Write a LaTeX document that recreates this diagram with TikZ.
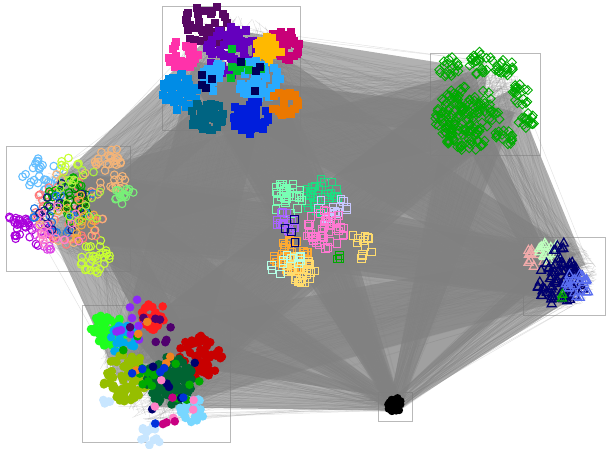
\documentclass[tikz,border=0pt]{standalone}
\usepackage{xcolor}

% Palette
\definecolor{edgegray}{RGB}{128,128,128}
\definecolor{boxgray}{RGB}{185,185,185}
\definecolor{tdark}{RGB}{88,8,100}
\definecolor{tpurple}{RGB}{100,0,190}
\definecolor{tmagenta}{RGB}{200,0,120}
\definecolor{tyellow}{RGB}{255,185,0}
\definecolor{tpink}{RGB}{255,50,170}
\definecolor{tsky}{RGB}{40,170,255}
\definecolor{tblue}{RGB}{0,140,230}
\definecolor{tteal}{RGB}{0,100,130}
\definecolor{troyal}{RGB}{0,30,220}
\definecolor{torange}{RGB}{235,120,0}
\definecolor{tgreen}{RGB}{0,190,40}
\definecolor{tnavy}{RGB}{0,0,90}
\definecolor{dgreen}{RGB}{0,170,0}
\definecolor{lorange}{RGB}{244,180,120}
\definecolor{llgreen}{RGB}{120,240,120}
\definecolor{lpurple}{RGB}{170,0,220}
\definecolor{lmagenta}{RGB}{220,70,230}
\definecolor{lblue}{RGB}{100,190,255}
\definecolor{lyellow}{RGB}{200,255,50}
\definecolor{lsalmon}{RGB}{255,120,120}
\definecolor{ldkgreen}{RGB}{0,110,0}
\definecolor{lmblue}{RGB}{30,120,230}
\definecolor{lnavy}{RGB}{20,20,130}
\definecolor{lorange2}{RGB}{240,170,60}
\definecolor{lpink}{RGB}{255,130,200}
\definecolor{llime}{RGB}{170,240,60}
\definecolor{cgreen}{RGB}{30,220,130}
\definecolor{clgreen}{RGB}{120,255,180}
\definecolor{clav}{RGB}{200,200,255}
\definecolor{cviolet}{RGB}{170,100,255}
\definecolor{cpink}{RGB}{255,120,210}
\definecolor{corange}{RGB}{255,170,50}
\definecolor{cyellow}{RGB}{255,220,110}
\definecolor{ccyan}{RGB}{180,255,230}
\definecolor{cnavy}{RGB}{0,0,120}
\definecolor{rpink}{RGB}{240,170,170}
\definecolor{rgreen}{RGB}{190,255,190}
\definecolor{rnavy}{RGB}{0,0,110}
\definecolor{rblue}{RGB}{90,110,240}
\definecolor{bred}{RGB}{255,30,30}
\definecolor{bgreen}{RGB}{30,255,30}
\definecolor{bcyan}{RGB}{0,170,240}
\definecolor{bpurple}{RGB}{140,40,250}
\definecolor{bdpurple}{RGB}{80,0,110}
\definecolor{bdred}{RGB}{200,0,0}
\definecolor{bolive}{RGB}{150,190,0}
\definecolor{bdgreen}{RGB}{0,100,50}
\definecolor{blcyan}{RGB}{120,215,255}
\definecolor{blblue}{RGB}{200,230,255}
\definecolor{borange}{RGB}{240,130,30}
\definecolor{bmagenta}{RGB}{200,0,130}
\definecolor{broyal}{RGB}{0,50,220}

\tikzset{
    edge/.style={draw=edgegray, line width=0.5pt, opacity=0.22},
    band/.style={fill=edgegray, opacity=0.38},
    boxline/.style={draw=boxgray, line width=1pt},
    hollow/.style={line width=1.1pt}
}

\begin{document}
\begin{tikzpicture}[x=1pt,y=-1pt]
    \useasboundingbox (0,0) rectangle (611,448);
    \def\clusters{232/70/55, 483/103/46, 78/208/48, 315/232/45, 563/275/34, 158/366/58, 395/405/8}
    \pgfmathsetseed{4242}

    % Group boxes
    \foreach \xa/\ya/\xb/\yb in {162/6/300/130, 430/53/540/155, 6/146/130/271, 523/237/605/315, 82/305/230/442, 378/392/412/421} {
        \draw[boxline] (\xa,\ya) rectangle (\xb,\yb);
    }

    % Dense core of the edges
    \fill[edgegray, opacity=0.75] (232,78) -- (478,108) -- (555,272) -- (395,398) -- (160,362) -- (80,208) -- cycle;

    % Edge bundles between groups
    \foreach \ax/\ay/\ar in \clusters {
        \foreach \bx/\by/\br in \clusters {
            \pgfmathsetmacro\dlen{veclen(\bx-\ax,\by-\ay)}
            \ifdim\dlen pt>1pt
                \pgfmathsetmacro\nx{-(\by-\ay)/\dlen}
                \pgfmathsetmacro\ny{(\bx-\ax)/\dlen}
                \fill[band] ({\ax+0.72*\ar*\nx},{\ay+0.72*\ar*\ny}) -- ({\bx+0.72*\br*\nx},{\by+0.72*\br*\ny})
                    -- ({\bx-0.72*\br*\nx},{\by-0.72*\br*\ny}) -- ({\ax-0.72*\ar*\nx},{\ay-0.72*\ar*\ny}) -- cycle;
            \fi
        }
    }

    % Edges between groups
    \foreach \ax/\ay/\ar in \clusters {
        \foreach \bx/\by/\br in \clusters {
            \foreach \k in {1,...,50} {
                \pgfmathsetmacro\pa{360*rnd}
                \pgfmathsetmacro\ra{\ar*sqrt(rnd)}
                \pgfmathsetmacro\pb{360*rnd}
                \pgfmathsetmacro\rb{\br*sqrt(rnd)}
                \draw[edge] ({\ax+\ra*cos(\pa)},{\ay+\ra*sin(\pa)}) -- ({\bx+\rb*cos(\pb)},{\by+\rb*sin(\pb)});
            }
        }
    }

    % Top group: filled squares
    \foreach \cx/\cy/\r/\n/\col in {205/25/22/45/tdark, 232/50/25/70/tpurple, 183/55/15/30/tpink,
        283/45/17/35/tmagenta, 268/50/13/25/tyellow, 258/80/22/50/tsky, 215/78/14/20/tsky,
        180/92/18/45/tblue, 207/116/17/45/tteal, 250/117/18/45/troyal, 285/104/14/28/torange,
        232/72/32/8/tgreen, 232/78/32/8/tnavy} {
        \foreach \k in {1,...,\n} {
            \pgfmathsetmacro\pa{360*rnd}
            \pgfmathsetmacro\rr{\r*sqrt(rnd)}
            \fill[\col] ({\cx+\rr*cos(\pa)-4},{\cy+\rr*sin(\pa)-4}) rectangle ++(8,8);
        }
    }

    % Right group: hollow diamonds
    \foreach \cx/\cy/\r/\n/\col in {468/118/33/160/dgreen, 450/68/11/18/dgreen, 480/62/13/22/dgreen,
        505/70/11/18/dgreen, 520/95/11/18/dgreen, 525/120/10/15/dgreen, 505/138/11/15/dgreen} {
        \foreach \k in {1,...,\n} {
            \pgfmathsetmacro\pa{360*rnd}
            \pgfmathsetmacro\rr{\r*sqrt(rnd)}
            \draw[\col, line width=0.9pt] ({\cx+\rr*cos(\pa)},{\cy+\rr*sin(\pa)-4.5}) -- ++(4.5,4.5) -- ++(-4.5,4.5) -- ++(-4.5,-4.5) -- cycle;
        }
    }

    % Left group: hollow circles
    \foreach \cx/\cy/\r/\n/\col in {108/160/14/22/lorange, 118/182/9/12/lorange, 124/198/11/16/llgreen,
        18/226/13/25/lpurple, 40/232/16/12/lpurple, 45/238/14/14/lmagenta, 42/176/20/26/lblue,
        95/256/17/30/lyellow, 72/170/14/12/lyellow, 70/212/36/45/lsalmon, 72/205/40/25/lorange,
        68/200/24/30/dgreen, 72/205/18/14/ldkgreen, 65/205/34/18/lmblue, 65/210/28/12/lnavy,
        75/215/28/15/lorange2, 60/228/24/14/lpink, 85/195/28/15/llime} {
        \foreach \k in {1,...,\n} {
            \pgfmathsetmacro\pa{360*rnd}
            \pgfmathsetmacro\rr{\r*sqrt(rnd)}
            \draw[\col, hollow] ({\cx+\rr*cos(\pa)},{\cy+\rr*sin(\pa)}) circle (3.8pt);
        }
    }

    % Center group: hollow squares
    \foreach \cx/\cy/\r/\n/\col in {322/197/18/35/cgreen, 287/198/16/30/clgreen, 332/206/15/15/clav,
        287/221/11/15/cviolet, 325/230/20/45/cpink, 290/256/18/45/corange, 300/269/15/35/cyellow,
        362/245/14/12/cyellow, 285/262/17/12/ccyan, 300/225/22/4/cnavy, 340/256/4/3/dgreen} {
        \foreach \k in {1,...,\n} {
            \pgfmathsetmacro\pa{360*rnd}
            \pgfmathsetmacro\rr{\r*sqrt(rnd)}
            \draw[\col, line width=1pt] ({\cx+\rr*cos(\pa)-3.8},{\cy+\rr*sin(\pa)-3.8}) rectangle ++(7.6,7.6);
        }
    }

    % Right lower group: hollow triangles
    \foreach \cx/\cy/\r/\n/\col in {535/256/10/10/rpink, 548/250/11/16/rgreen, 560/282/24/80/rnavy,
        558/245/7/7/rnavy, 578/284/13/22/rblue, 562/296/3/2/dgreen} {
        \foreach \k in {1,...,\n} {
            \pgfmathsetmacro\pa{360*rnd}
            \pgfmathsetmacro\rr{\r*sqrt(rnd)}
            \draw[\col, line width=1.2pt] ({\cx+\rr*cos(\pa)},{\cy+\rr*sin(\pa)-4.5}) -- ++(4.5,8) -- ++(-9,0) -- cycle;
        }
    }

    % Lower left group: filled circles
    \foreach \cx/\cy/\r/\n/\col in {155/315/15/35/bred, 108/330/17/50/bgreen, 125/340/16/22/bcyan,
        130/320/22/10/bpurple, 150/330/22/8/bdpurple, 200/356/22/50/bdred, 127/378/24/80/bolive,
        170/381/24/110/bdgreen, 192/410/13/25/blcyan, 150/436/12/12/blblue, 105/405/7/4/blblue,
        160/370/42/14/dgreen, 160/370/42/6/rnavy, 150/350/32/5/borange, 170/400/26/5/lpink,
        170/400/26/4/bmagenta, 160/390/36/6/broyal} {
        \foreach \k in {1,...,\n} {
            \pgfmathsetmacro\pa{360*rnd}
            \pgfmathsetmacro\rr{\r*sqrt(rnd)}
            \fill[\col] ({\cx+\rr*cos(\pa)},{\cy+\rr*sin(\pa)}) circle (4.3pt);
        }
    }

    % Small black group
    \foreach \k in {1,...,26} {
        \pgfmathsetmacro\pa{360*rnd}
        \pgfmathsetmacro\rr{8*sqrt(rnd)}
        \fill[black] ({395+\rr*cos(\pa)},{405+\rr*sin(\pa)}) circle (4pt);
    }

\end{tikzpicture}
\end{document}
